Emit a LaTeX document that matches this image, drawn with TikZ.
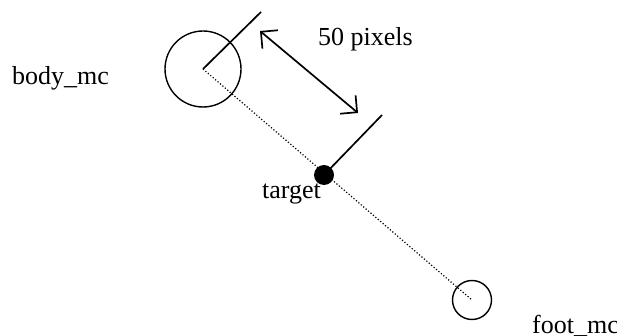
\documentclass[tikz,border=0pt]{standalone}
\usepackage{fontspec}
\setmainfont{Liberation Serif}
\usetikzlibrary{arrows.meta}
\begin{document}
\begin{tikzpicture}[x=1pt,y=-1pt,
  lbl/.style={font=\fontsize{26}{30}\selectfont, inner sep=0pt, anchor=base west},
  ln/.style={line width=1.7pt},
  dots/.style={line width=1.2pt, dotted}]
\useasboundingbox (0,0) rectangle (617,336);
\coordinate (bc) at (203,69);
\coordinate (fc) at (472,300);
\node[draw, circle, line width=1.4pt, minimum size=76pt, inner sep=0pt] (body) at (bc) {};
\node[draw, circle, line width=1.4pt, minimum size=39pt, inner sep=0pt] (foot) at (fc) {};
\node[fill, circle, minimum size=20pt, inner sep=0pt] (target) at (324,175) {};
\coordinate (btop) at (261,12);
\coordinate (ttop) at (382,115);
\coordinate (a1) at (260,31);
\coordinate (a2) at (358,113);
\draw[dots] (bc) -- (fc);
\draw[ln] (bc) -- (btop);
\draw[ln] (target.center) -- (ttop);
\draw[ln, {Straight Barb[length=12pt,width=24pt,line width=1.7pt]}-{Straight Barb[length=12pt,width=24pt,line width=1.7pt]}] (a1) -- (a2);
\node[lbl] (lb) at (12,85) {body\_mc};
\node[lbl] (lp) at (318,46) {50 pixels};
\node[lbl] (lt) at (262,199) {target};
\node[lbl] (lf) at (532,333) {foot\_mc};
\end{tikzpicture}
\end{document}
